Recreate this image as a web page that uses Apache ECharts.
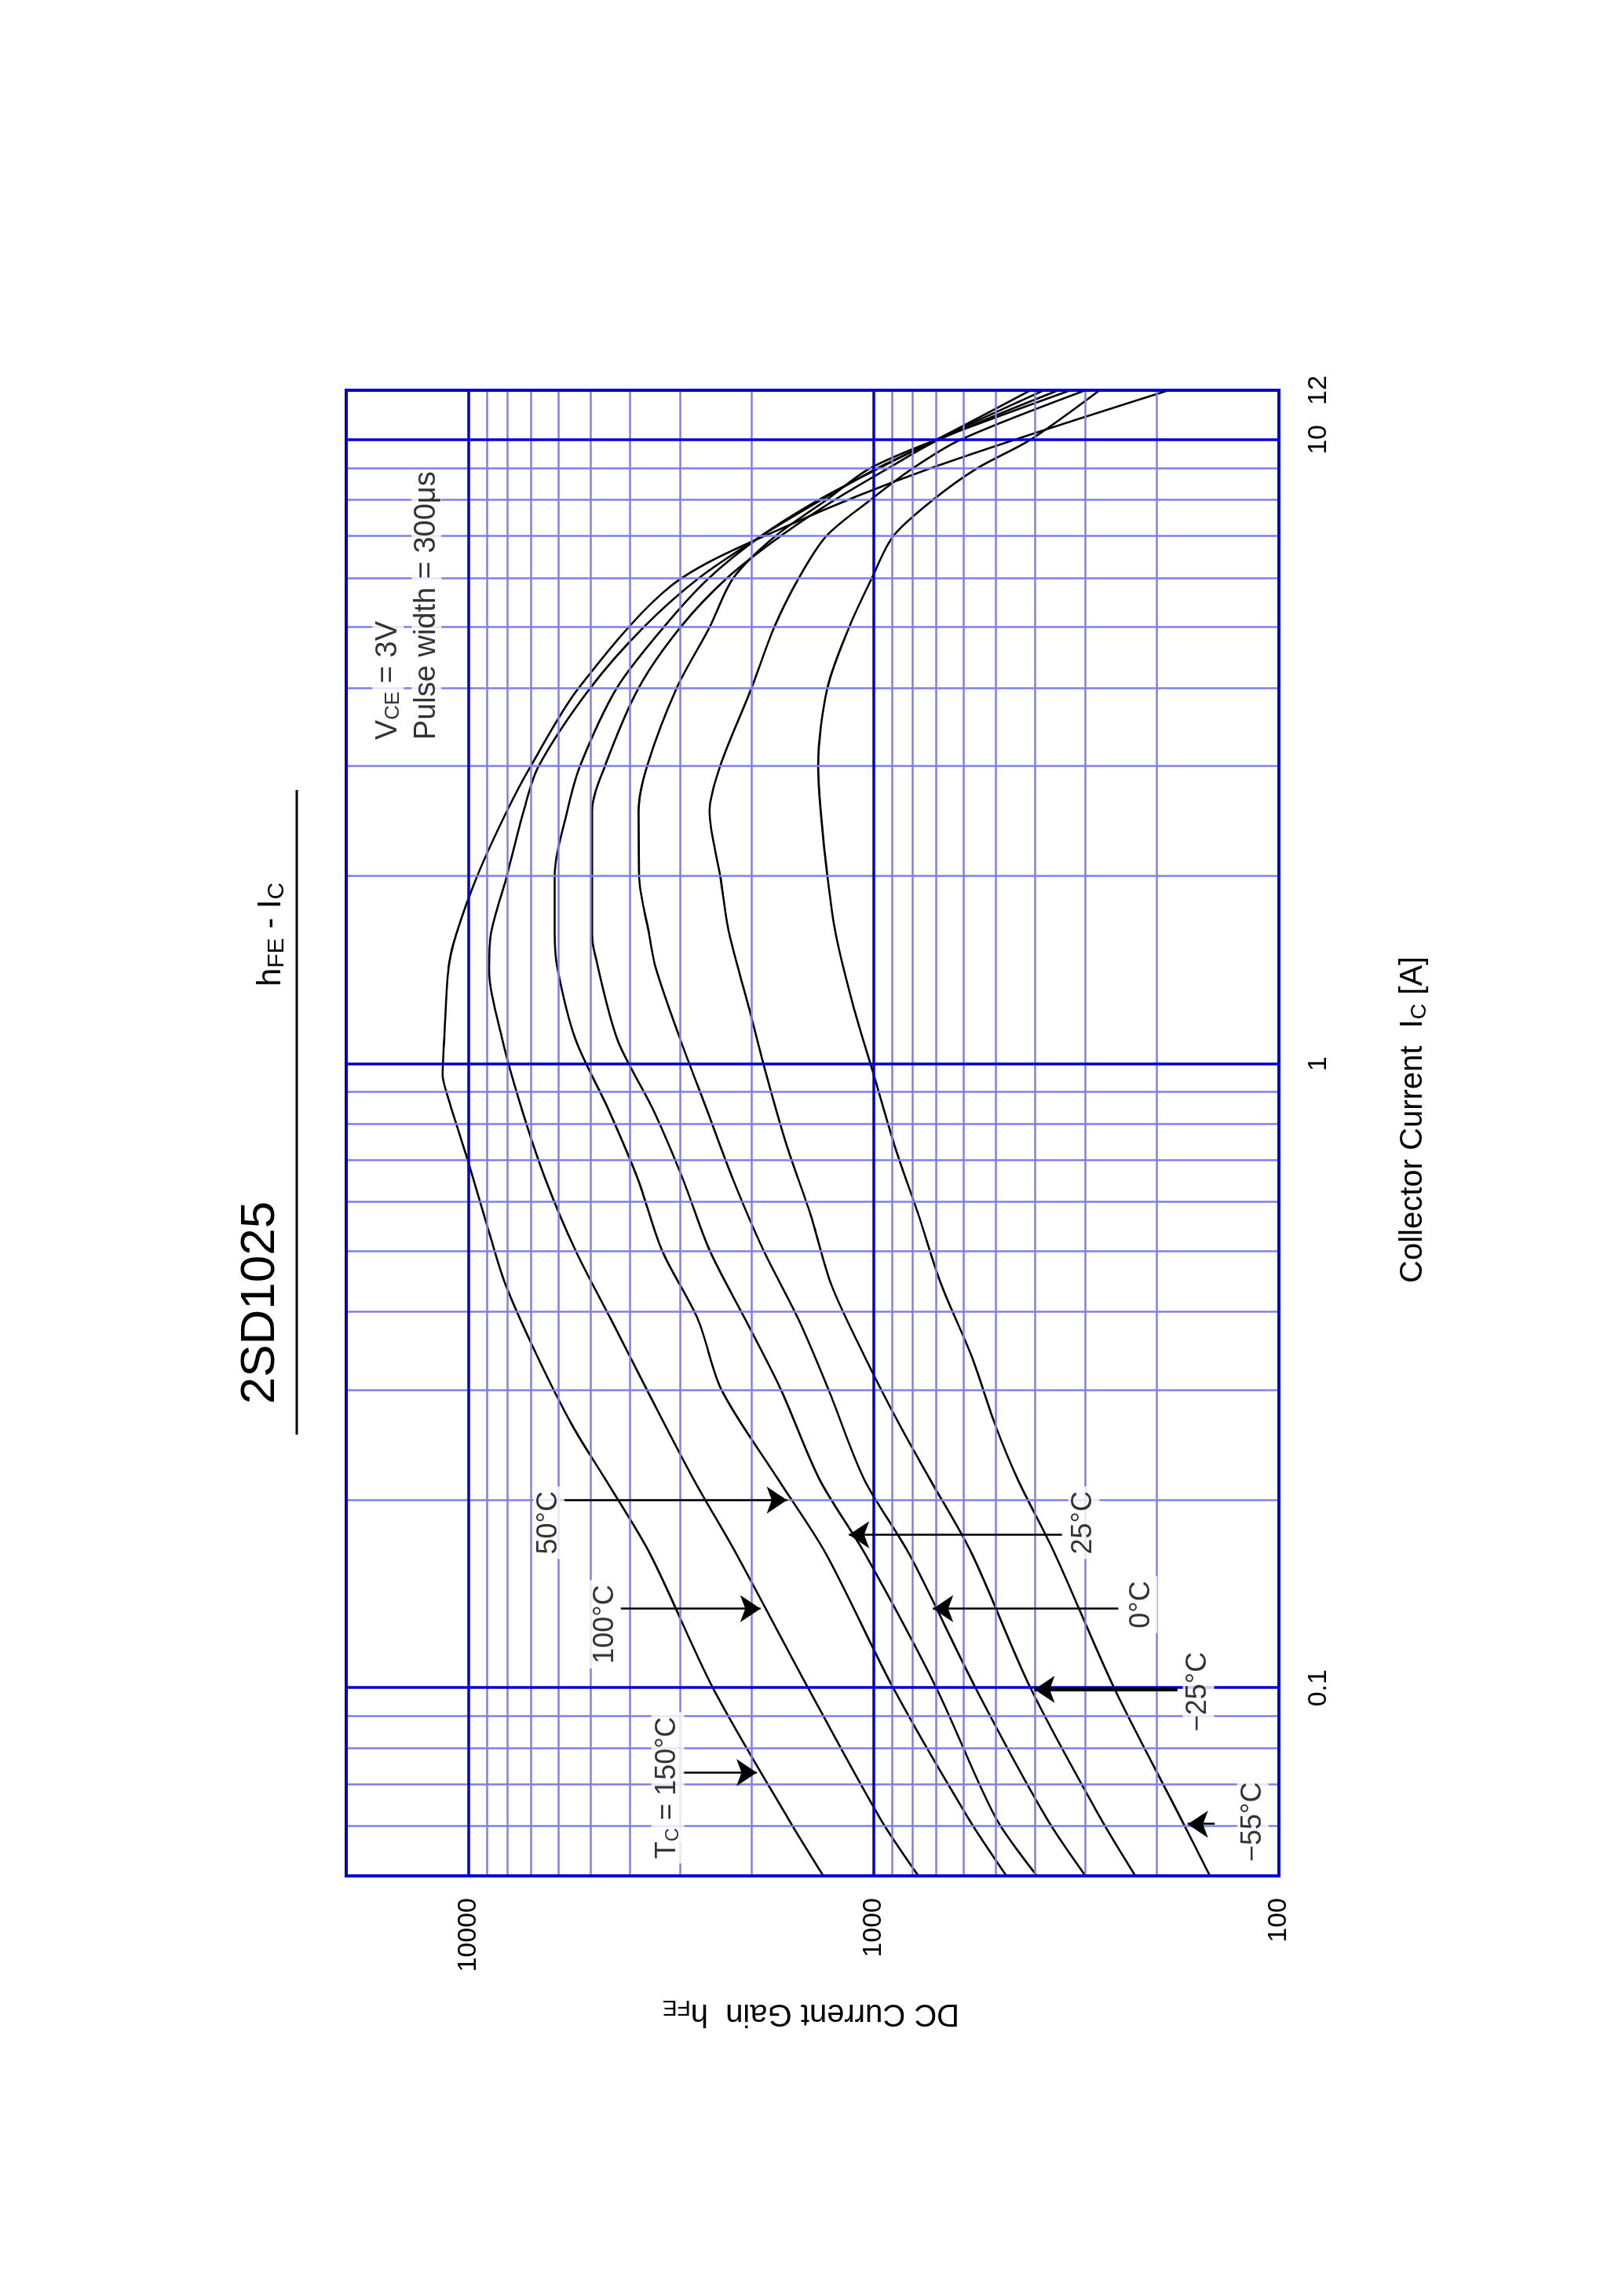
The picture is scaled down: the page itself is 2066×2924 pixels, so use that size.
<!DOCTYPE html>
<html><head><meta charset="utf-8">
<script src="https://cdn.jsdelivr.net/npm/echarts@6/dist/echarts.min.js"></script>
<style>html,body{margin:0;padding:0;background:#fff;overflow:hidden;width:2066px;height:2924px}
#c{position:absolute;left:0;top:0;width:2924px;height:2066px;transform-origin:0 0;transform:translate(0px,2924px) rotate(-90deg);}</style>
</head><body><div id="c"></div>
<script>
// ---- data (Ic in A, hFE) ----
const ic150 = [0.05,0.062,0.1,0.164,0.216,0.263,0.341,0.442,0.537,0.696,0.902,0.962,1.109,1.428,1.615,2.0,2.54,3.0,4.0,5.85,7.26,9.0,12];
const hfe150 = [1330,1630,2490,3560,4590,5530,6770,8080,8880,10000,11330,11570,11450,11180,10700,9500,8030,7010,5340,3140,1645,723,187];
const ic100 = [0.05,0.062,0.1,0.164,0.216,0.3,0.389,0.503,0.652,0.845,1.095,1.418,1.615,2.0,2.54,3.0,4.0,5.0,6.0,7.0,8.0,9.0,10,12];
const hfe100 = [775,966,1450,2180,2780,3620,4440,5440,6440,7370,8240,8880,8790,8030,7300,6700,5000,3700,2700,1900,1350,980,700,410];
const ic50 = [0.05,0.062,0.1,0.164,0.216,0.3,0.389,0.503,0.652,0.845,1.095,1.418,1.615,2.0,2.54,3.0,4.0,5.0,6.0,7.0,8.0,9.0,10,12];
const hfe50 = [470,585,894,1310,1720,2370,2710,3330,3810,4510,5440,6020,6120,6120,5700,5300,4300,3300,2550,1900,1370,970,700,380];
const ic25 = [0.05,0.062,0.1,0.164,0.216,0.3,0.389,0.503,0.652,0.845,1.095,1.533,1.615,2.0,2.54,3.0,4.0,5.0,6.0,7.0,8.0,9.0,10,12];
const hfe25 = [395,500,700,1050,1360,1690,2070,2540,2950,3500,4290,4910,4950,4950,4950,4600,3800,3000,2300,1700,1250,920,690,350];
const ic0 = [0.05,0.062,0.1,0.164,0.216,0.3,0.389,0.503,0.652,0.845,1.095,1.418,1.615,2.0,2.54,3.0,4.0,5.0,6.0,7.0,8.0,9.0,10,12];
const hfe0 = [300,375,560,817,1055,1290,1530,1870,2220,2580,3000,3440,3580,3790,3800,3620,3060,2540,2220,1750,1310,1020,700,327];
const icM25 = [0.05,0.062,0.1,0.164,0.216,0.263,0.341,0.442,0.573,0.742,0.962,1.246,1.615,2.0,2.54,3.0,4.0,5.0,6.0,7.0,8.0,9.0,10,12];
const hfeM25 = [226,276,410,572,726,860,1055,1270,1430,1640,1840,2040,2270,2390,2540,2390,2000,1760,1530,1310,1020,800,610,300];
const icM55 = [0.05,0.062,0.1,0.164,0.216,0.263,0.341,0.442,0.573,0.742,0.962,1.246,1.615,2.0,2.54,3.0,4.0,5.0,6.0,7.0,8.0,9.0,10,12];
const hfeM55 = [148,175,255,357,441,500,574,680,775,889,1000,1125,1240,1300,1350,1370,1300,1150,1010,895,715,555,410,277];
const curveNames = ['150','100','50','25','0','-25','-55'];
// tick labels
const xTickLabels = [0.1, 1, 10, 12];
const yTickLabels = [100, 1000, 10000];
// grid line values
const xMajor = [0.1, 1, 10];
const xMinor = [0.06,0.07,0.08,0.09,0.2,0.3,0.4,0.5,0.6,0.7,0.8,0.9,2,3,4,5,6,7,8,9];
const yMajor = [1000, 10000];
const yMinor = [200,300,400,500,600,700,800,900,2000,3000,4000,5000,6000,7000,8000,9000];
// annotations: label text, label point [Ic,hFE], arrow from, arrow to
const annText = ['50°C','100°C','T{s|C} = 150°C','25°C','0°C','−25°C','−55°C'];
const annLabelPos = [[0.184,6330],[0.1265,4590],[0.0692,3220],[0.184,303],[0.136,218],[0.0986,158],[0.061,116]];
const annFrom = [[0.2,5920],[0.134,4220],[0.0732,2960],[0.176,343],[0.134,249],[0.0995,178],[0.0605,144]];
const annTo = [[0.2,1635],[0.134,1900],[0.0732,1940],[0.176,1150],[0.134,714],[0.0995,401],[0.0605,168]];
const noteLines = ['V{s|CE} = 3V','Pulse width = 300μs'];
const notePos = [[3.3,15780],[3.3,12670]];

const FONT = '"Liberation Sans", Arial, sans-serif';
const zip = (a,b)=>a.map((v,i)=>[v,b[i]]);
const curves = [[ic150,hfe150],[ic100,hfe100],[ic50,hfe50],[ic25,hfe25],[ic0,hfe0],[icM25,hfeM25],[icM55,hfeM55]];
const near = (v, arr)=>arr.some(t=>Math.abs(v-t)/t<1e-3);
const minorCol = '#7f7fe8', majorCol = '#0000cc';

const series = [];
series.push({type:'line', data:[], silent:true, z:1,
  markLine:{silent:true, symbol:['none','none'], label:{show:false}, animation:false,
    data:[
      ...xMinor.map(v=>({xAxis:v, lineStyle:{color:minorCol,width:2.5,type:'solid'}})),
      ...yMinor.map(v=>({yAxis:v, lineStyle:{color:minorCol,width:2.5,type:'solid'}})),
      ...xMajor.map(v=>({xAxis:v, lineStyle:{color:majorCol,width:3.5,type:'solid'}})),
      ...yMajor.map(v=>({yAxis:v, lineStyle:{color:majorCol,width:3.5,type:'solid'}}))
    ]}});
curves.forEach((c,i)=>series.push({type:'line', name:curveNames[i], data:zip(c[0],c[1]), smooth:0.3,
  showSymbol:false, symbol:'none', z:3, lineStyle:{color:'#000',width:2.6}}));
series.push({type:'scatter', data:annLabelPos.map((p,i)=>({value:p, label:{formatter:annText[i]}})), symbolSize:1,
  itemStyle:{color:'rgba(0,0,0,0)'}, z:5,
  label:{show:true, position:'inside', color:'#000', fontSize:36, fontFamily:FONT, backgroundColor:'#fff', padding:[2,6],
    rich:{s:{fontSize:24, fontFamily:FONT, verticalAlign:'bottom', padding:[14,0,0,0], backgroundColor:'#fff'}}}});
series.push({type:'scatter', data:notePos.map((p,i)=>({value:p, label:{formatter:noteLines[i]}})), symbolSize:1,
  itemStyle:{color:'rgba(0,0,0,0)'}, z:5,
  label:{show:true, position:'right', distance:0, color:'#000', fontSize:38, fontFamily:FONT, backgroundColor:'#fff',
    rich:{s:{fontSize:26, fontFamily:FONT, padding:[14,0,0,0], backgroundColor:'#fff'}}}});
series.push({type:'line', data:[], z:4, markLine:{silent:true, symbol:['none','arrow'], symbolSize:26, label:{show:false}, animation:false,
  data: annFrom.map((f,i)=>[{coord:f, lineStyle:{color:'#000', width: i===5?5:2.5, type:'solid'}},{coord:annTo[i]}])}});

const chart = echarts.init(document.getElementById('c'), null, {renderer:'canvas'});
chart.setOption({
  animation:false, backgroundColor:'#fff',
  grid:{left:535, right:497, top:441, bottom:437, show:true, borderColor:majorCol, borderWidth:4, z:6},
  xAxis:{type:'log', logBase:10, min:0.05, max:12, axisLine:{show:false}, axisTick:{show:false}, splitLine:{show:false},
    axisLabel:{show:true, margin:34, color:'#000', fontSize:34, fontFamily:FONT, showMinLabel:true, showMaxLabel:true,
      formatter:v=>near(v,xTickLabels)? String(Math.round(v*10)/10) : ''},
    },
  yAxis:{type:'log', logBase:10, min:100, max:20000, axisLine:{show:false}, axisTick:{show:false}, splitLine:{show:false},
    axisLabel:{show:true, margin:28, color:'#000', fontSize:34, fontFamily:FONT, formatter:v=>near(v,yTickLabels)? String(Math.round(v)) : ''}},
  graphic:[
    {type:'text', x:1265, y:332, style:{text:'2SD1025', fontSize:62, fontFamily:FONT, fill:'#000', align:'center', verticalAlign:'middle'}},
    {type:'text', x:1734, y:345, style:{text:'h{s|FE} - I{s|C}', fontSize:42, fontFamily:FONT, fill:'#000', align:'center', verticalAlign:'middle',
      rich:{s:{fontSize:30, fontFamily:FONT, padding:[16,0,0,0]}}}},
    {type:'line', shape:{x1:1097, y1:378, x2:1918, y2:378}, style:{stroke:'#000', lineWidth:3}},
    {type:'text', x:1498, y:1800, style:{text:'Collector Current  I{s|C} [A]', fontSize:40, fontFamily:FONT, fill:'#000', align:'center', verticalAlign:'middle',
      rich:{s:{fontSize:28, fontFamily:FONT, padding:[16,0,0,0]}}}},
    {type:'text', x:360, y:1033, rotation:Math.PI/2, style:{text:'DC Current Gain  h{s|FE}', fontSize:40, fontFamily:FONT, fill:'#000', align:'center', verticalAlign:'middle',
      rich:{s:{fontSize:28, fontFamily:FONT, padding:[16,0,0,0]}}}}
  ],
  series
});
</script></body></html>
